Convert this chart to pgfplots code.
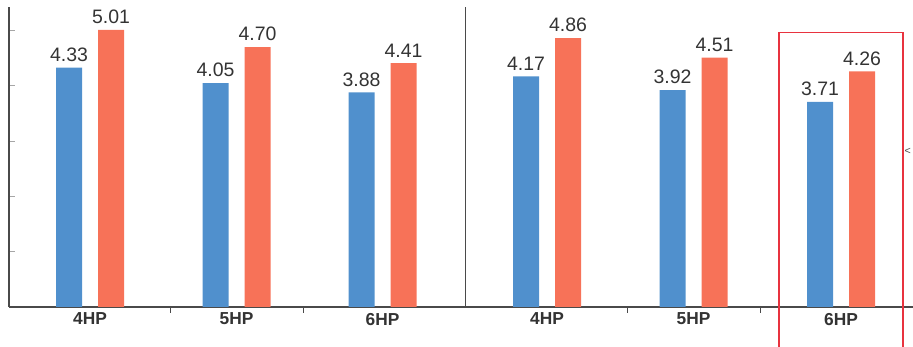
\documentclass[border=0pt]{standalone}
\usepackage{pgfplots}
\pgfplotsset{compat=1.18}
\usepackage{fontspec}
\setmainfont{Liberation Sans}
\definecolor{cblue}{HTML}{5090CD}
\definecolor{corange}{HTML}{F77258}
\definecolor{axgray}{HTML}{4A4A4A}
\definecolor{txtgray}{HTML}{333333}
\definecolor{boxred}{HTML}{E8333F}
\begin{document}
\begin{tikzpicture}[x=0.75pt,y=0.75pt]
\begin{axis}[
  x=0.75pt, y=41.475pt,
  xmin=9, xmax=913, ymin=0, ymax=5.425,
  axis x line*=bottom, axis y line*=left,
  axis line style={axgray, line width=1.3pt},
  clip=false,
  xtick={170.6,303.4,627.8,760.6},
  xticklabels={},
  ytick={1,2,3,4,5},
  yticklabels={},
  tick align=inside,
  major tick length=4.5pt,
  ytick style={gray!70, line width=0.8pt},
  xtick style={axgray, line width=0.8pt},
  extra x ticks={90,236.5,382.5,547,693.5,841},
  extra x tick labels={4HP,5HP,6HP,4HP,5HP,6HP},
  extra x tick style={major tick length=0pt, tick label style={font=\fontsize{13}{15}\selectfont\bfseries, text=txtgray, yshift=-1pt}},
  ybar, bar width=26,
  nodes near coords,
  nodes near coords style={font=\fontsize{14.6}{16}\selectfont, text=txtgray, yshift=1pt, /pgf/number format/.cd, fixed, fixed zerofill, precision=2, assume math mode=true},
]
\addplot[fill=cblue, draw=none, bar shift=-21] coordinates {(90,4.33) (236.5,4.05) (382.5,3.88) (547,4.17) (693.5,3.92) (841,3.71)};
\addplot[fill=corange, draw=none, bar shift=21] coordinates {(90,5.01) (236.5,4.70) (382.5,4.41) (547,4.86) (693.5,4.51) (841,4.26)};
\draw[axgray, line width=1.3pt] (axis cs:465.5,0) -- (axis cs:465.5,5.425);
\draw[boxred, line width=0.8pt] (axis cs:779,-0.75) rectangle (axis cs:903,4.96);
\node[font=\fontsize{8}{9}\selectfont, text=axgray, anchor=west, inner sep=0pt, xshift=1pt] at (axis cs:903,2.82) {<};
\coordinate (bl) at (axis cs:0,-0.7233);
\coordinate (tr) at (axis cs:913,5.5515);
\end{axis}
\pgfresetboundingbox
\useasboundingbox (bl) rectangle (tr);
\end{tikzpicture}
\end{document}
